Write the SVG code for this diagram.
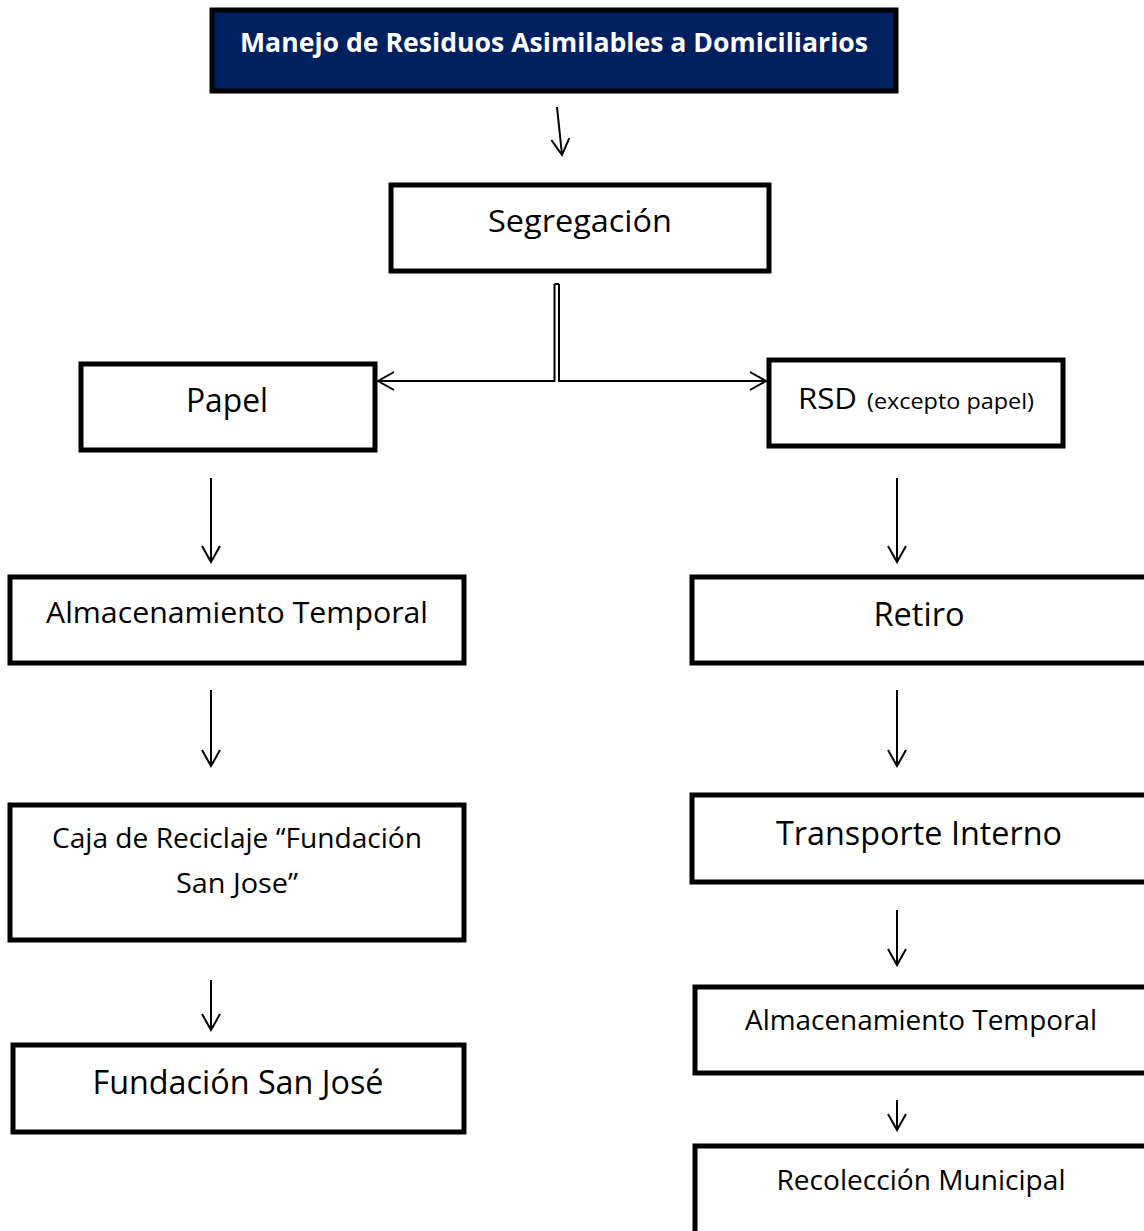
<svg xmlns="http://www.w3.org/2000/svg" width="1144" height="1231" viewBox="0 0 1144 1231">
  <style>
    .box { fill: #ffffff; stroke: #000000; stroke-width: 5; }
    .head { fill: #002060; stroke: #000000; stroke-width: 5; }
    .lbl { font-family: "Open Sans", "Noto Sans", "Liberation Sans", sans-serif; fill: #000000; text-anchor: middle; }
    .lbl-start { font-family: "Open Sans", "Noto Sans", "Liberation Sans", sans-serif; fill: #000000; text-anchor: start; }
    .ttl { font-family: "Open Sans", "Noto Sans", "Liberation Sans", sans-serif; font-weight: bold; fill: #ffffff; text-anchor: middle; }
    .wire { fill: none; stroke: #000000; stroke-width: 2; }
  </style>
  <defs>
    <marker id="tip" viewBox="0 0 20 20" refX="18" refY="10" markerWidth="20" markerHeight="20" markerUnits="userSpaceOnUse" orient="auto">
      <path d="M2,1 L18,10 L2,19" fill="none" stroke="#000000" stroke-width="2"/>
    </marker>
  </defs>
  <rect width="1144" height="1231" fill="#ffffff"/>

  <!-- connectors -->
  <g id="connectors">
    <path class="wire" d="M557,107 L562,155" marker-end="url(#tip)"/>
    <path class="wire" d="M554.5,284 L559,284"/>
    <path class="wire" d="M554.5,284 V381 H378" marker-end="url(#tip)"/>
    <path class="wire" d="M559,284 V381 H766" marker-end="url(#tip)"/>
    <path class="wire" d="M211,478 V562" marker-end="url(#tip)"/>
    <path class="wire" d="M211,690 V766" marker-end="url(#tip)"/>
    <path class="wire" d="M211,980 V1030" marker-end="url(#tip)"/>
    <path class="wire" d="M897,478 V562" marker-end="url(#tip)"/>
    <path class="wire" d="M897,690 V766" marker-end="url(#tip)"/>
    <path class="wire" d="M897,910 V965" marker-end="url(#tip)"/>
    <path class="wire" d="M897,1100 V1130" marker-end="url(#tip)"/>
  </g>

  <g id="node-manejo">
    <rect class="head" x="212" y="10" width="684" height="81"/>
    <text class="ttl" x="554" y="52" font-size="27" textLength="628" lengthAdjust="spacingAndGlyphs">Manejo de Residuos Asimilables a Domiciliarios</text>
  </g>

  <g id="node-segregacion">
    <rect class="box" x="391" y="185" width="378" height="86"/>
    <text class="lbl" x="580" y="232" font-size="31" textLength="184" lengthAdjust="spacingAndGlyphs">Segregación</text>
  </g>

  <g id="node-papel">
    <rect class="box" x="81" y="364" width="294" height="86"/>
    <text class="lbl" x="227" y="412" font-size="33" textLength="82" lengthAdjust="spacingAndGlyphs">Papel</text>
  </g>

  <g id="node-rsd">
    <rect class="box" x="769" y="360" width="294" height="86"/>
    <text class="lbl-start" x="798" y="409" font-size="30" textLength="59" lengthAdjust="spacingAndGlyphs">RSD</text>
    <text class="lbl-start" x="867" y="409" font-size="21" textLength="167" lengthAdjust="spacingAndGlyphs">(excepto papel)</text>
  </g>

  <g id="node-almacenamiento-papel">
    <rect class="box" x="10" y="577" width="454" height="86"/>
    <text class="lbl" x="237" y="623" font-size="29" textLength="382" lengthAdjust="spacingAndGlyphs">Almacenamiento Temporal</text>
  </g>

  <g id="node-caja">
    <rect class="box" x="10" y="805" width="454" height="135"/>
    <text class="lbl" x="237" y="848" font-size="27" textLength="370" lengthAdjust="spacingAndGlyphs">Caja de Reciclaje “Fundación</text>
    <text class="lbl" x="237" y="893" font-size="27" textLength="122" lengthAdjust="spacingAndGlyphs">San Jose”</text>
  </g>

  <g id="node-fundacion">
    <rect class="box" x="13" y="1045" width="451" height="87"/>
    <text class="lbl" x="238" y="1094" font-size="32" textLength="291" lengthAdjust="spacingAndGlyphs">Fundación San José</text>
  </g>

  <g id="node-retiro">
    <rect class="box" x="692" y="577" width="470" height="86"/>
    <text class="lbl" x="919" y="626" font-size="32" textLength="91" lengthAdjust="spacingAndGlyphs">Retiro</text>
  </g>

  <g id="node-transporte">
    <rect class="box" x="692" y="795" width="470" height="87"/>
    <text class="lbl" x="919" y="845" font-size="32" textLength="286" lengthAdjust="spacingAndGlyphs">Transporte Interno</text>
  </g>

  <g id="node-almacenamiento-rsd">
    <rect class="box" x="695" y="987" width="470" height="86"/>
    <text class="lbl" x="921" y="1030" font-size="27" textLength="352" lengthAdjust="spacingAndGlyphs">Almacenamiento Temporal</text>
  </g>

  <g id="node-recoleccion">
    <rect class="box" x="695" y="1146" width="470" height="110"/>
    <text class="lbl" x="921" y="1190" font-size="27" textLength="289" lengthAdjust="spacingAndGlyphs">Recolección Municipal</text>
  </g>
</svg>
